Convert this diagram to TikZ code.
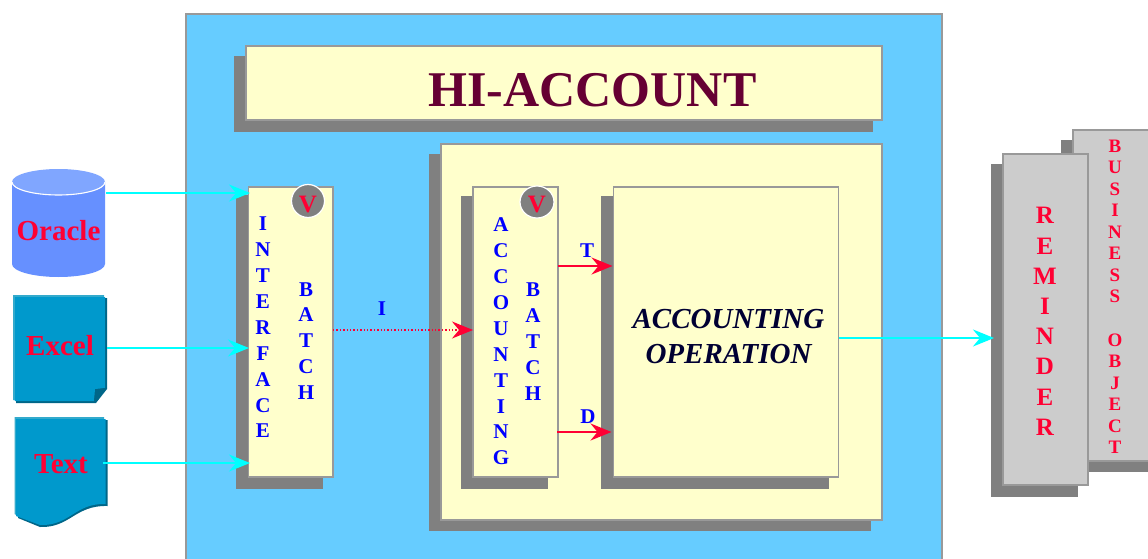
\documentclass[tikz,border=0pt]{standalone}
\usepackage{fontspec}
\setmainfont{Liberation Serif}
\usetikzlibrary{arrows.meta,shapes.geometric}
\definecolor{sky}{HTML}{66CCFF}
\definecolor{pale}{HTML}{FFFFCC}
\definecolor{edge}{HTML}{999999}
\definecolor{shade}{HTML}{808080}
\definecolor{rd}{HTML}{FF0033}
\definecolor{silver}{HTML}{CCCCCC}
\definecolor{wine}{HTML}{660033}
\definecolor{navy2}{HTML}{000033}
\definecolor{teal1}{HTML}{0099CC}
\definecolor{teal2}{HTML}{33AACC}
\definecolor{teal3}{HTML}{006688}
\definecolor{ora}{HTML}{6690FF}
\definecolor{oratop}{HTML}{80A6FF}
\definecolor{cyanline}{HTML}{00FFFF}
\definecolor{bluetext}{HTML}{0000FF}
\tikzset{
  x=1pt,y=-1pt,
  panel/.style={draw=edge,line width=1.5pt,fill=#1,anchor=north west,inner sep=0pt,outer sep=0pt},
  shadowbox/.style={fill=shade,draw=none,anchor=north west,inner sep=0pt,outer sep=0pt},
  letters/.style={inner sep=0pt,align=center,text=#1,font=\bfseries\fontsize{21}{25.9}\selectfont},
  smalllet/.style={inner sep=0pt,align=center,text=rd,font=\bfseries\fontsize{19}{21.55}\selectfont},
  biglet/.style={inner sep=0pt,align=center,text=rd,font=\bfseries\fontsize{25}{30.2}\selectfont},
  src/.style={inner sep=0pt,text=rd,font=\bfseries\fontsize{29}{32}\selectfont},
  vmark/.style={ellipse,draw=white,line width=1.2pt,fill=shade,inner sep=0pt},
  vtext/.style={text=rd,inner sep=0pt,font=\bfseries\fontsize{25}{25}\selectfont},
  flow/.style={draw=cyanline,line width=2pt,-{Stealth[length=21pt,width=17pt,inset=7pt]}},
  redflow/.style={draw=rd,line width=2pt,-{Stealth[length=21pt,width=17pt,inset=7pt]}},
  redlabel/.style={inner sep=0pt,text=bluetext,font=\bfseries\fontsize{21}{21}\selectfont},
}
\begin{document}
\begin{tikzpicture}
\clip (0,0) rectangle (1148,559);
\fill[white] (0,0) rectangle (1148,559);
% main panel
\node[panel=sky,minimum width=756pt,minimum height=560pt] (main) at (186,14) {};
% title
\node[shadowbox,minimum width=639pt,minimum height=76pt] (titleS) at (234,56) {};
\node[panel=pale,minimum width=636pt,minimum height=74pt] (title) at (246,46) {};
\node[inner sep=0pt,text=wine,font=\bfseries\fontsize{50}{50}\selectfont] (titleT) at (592.5,90) {HI-ACCOUNT};
% big pale
\node[shadowbox,minimum width=442pt,minimum height=377pt] (bigS) at (429,154) {};
\node[panel=pale,minimum width=441pt,minimum height=376pt] (big) at (441,144) {};
% interface
\node[shadowbox,minimum width=87pt,minimum height=294pt] (ifaceS) at (236,195) {};
\node[panel=pale,minimum width=84.5pt,minimum height=290pt] (iface) at (248.5,187) {};
\node[letters=bluetext] (ifaceA) at (263,327.5) {I\\N\\T\\E\\R\\F\\A\\C\\E};
\node[letters=bluetext] (ifaceB) at (306,341) {B\\A\\T\\C\\H};
\node[vmark,minimum width=33pt,minimum height=33pt] (v1) at (308,201) {};
\node[vtext] (v1t) at (308,204.5) {V};
% accounting batch
\node[shadowbox,minimum width=87pt,minimum height=293pt] (accS) at (461,196) {};
\node[panel=pale,minimum width=85pt,minimum height=290pt] (acc) at (473,187) {};
\node[letters=bluetext] (accA) at (501,341.5) {A\\C\\C\\O\\U\\N\\T\\I\\N\\G};
\node[letters=bluetext] (accB) at (533,341.5) {B\\A\\T\\C\\H};
\node[vmark,minimum width=34pt,minimum height=32pt] (v2) at (537,202) {};
\node[vtext] (v2t) at (537,204.5) {V};
% operation
\node[shadowbox,minimum width=228pt,minimum height=293pt] (opS) at (601,196) {};
\node[panel=pale,minimum width=225pt,minimum height=290pt] (op) at (613.5,187) {};
\node[inner sep=0pt,align=center,text=navy2,font=\bfseries\itshape\fontsize{29}{35}\selectfont] (opT) at (728.5,337) {ACCOUNTING\\OPERATION};
% business object
\node[shadowbox,minimum width=100pt,minimum height=332pt] (busS) at (1061,140) {};
\node[panel=silver,minimum width=90pt,minimum height=331pt] (bus) at (1073,130) {};
\node[smalllet] (busT) at (1115,296.7) {B\\U\\S\\I\\N\\E\\S\\S\\[21.55pt]O\\B\\J\\E\\C\\T};
% reminder
\node[shadowbox,minimum width=87pt,minimum height=333pt] (remS) at (991,164) {};
\node[panel=silver,minimum width=85pt,minimum height=331pt] (rem) at (1003,154) {};
\node[biglet] (remT) at (1045,321.5) {R\\E\\M\\I\\N\\D\\E\\R};
% oracle
\path[fill=ora] (12,182) -- (12,264) arc[start angle=180,end angle=360,x radius=46.5pt,y radius=13pt] -- (105,182) -- cycle;
\path[fill=oratop] (12,182) arc[start angle=180,end angle=-180,x radius=46.5pt,y radius=13pt];
\draw[white,line width=1.1pt] (12,182) arc[start angle=180,end angle=360,x radius=46.5pt,y radius=13pt];
\node[src] (oracle) at (58.5,231) {Oracle};
% excel
\path[fill=teal3] (16,298) -- (107,298) -- (107,389) -- (96,403) -- (16,403) -- cycle;
\path[fill=teal2] (13,295) -- (104,295) -- (104,300) -- (18,300) -- (18,401) -- (13,400) -- cycle;
\path[fill=teal1] (15,297) -- (105,297) -- (105,388) -- (95,389) -- (94,401) -- (15,401) -- cycle;
\path[fill=teal3] (105,388) -- (96,390) -- (94,401) -- cycle;
\node[src] (excel) at (60,346) {Excel};
% text
\path[fill=teal3] (18,420) -- (107.5,420) -- (107.5,506) .. controls (75,505) and (70,528) .. (40,527) -- (18,518) -- cycle;
\path[fill=teal2] (14.5,417) -- (104,417) -- (104,422) -- (18,422) -- (18,516) -- (14.5,514) -- cycle;
\path[fill=teal1] (16,419) -- (105.5,419) -- (105.5,504) .. controls (75,503) and (70,526) .. (40,525) -- (16,516) -- cycle;
\node[src] (textn) at (61,464) {Text};
% connectors
\coordinate (c1) at (106,193);
\coordinate (c2) at (107,348);
\coordinate (c3) at (103,463);
\coordinate (c4) at (839,338);
\coordinate (c5) at (333,330);
\coordinate (c6) at (558,266);
\coordinate (c7) at (557,432);
\draw[flow] (c1) -- ([xshift=1.5pt]iface.west |- c1);
\draw[flow] (c2) -- ([xshift=0.5pt]iface.west |- c2);
\draw[flow] (c3) -- ([xshift=1.5pt]iface.west |- c3);
\draw[flow] (c4) -- ([xshift=-9pt]rem.west |- c4);
\draw[draw=rd,line width=1.4pt,dotted,-{Stealth[length=21pt,width=17pt,inset=7pt]}] (c5) -- (acc.west |- c5);
\draw[redflow] (c6) -- ([xshift=-1pt]op.west |- c6);
\draw[redflow] (c7) -- ([xshift=-2pt]op.west |- c7);
\node[redlabel] (lI) at (382,309) {I};
\node[redlabel] (lT) at (587,251) {T};
\node[redlabel] (lD) at (588,417) {D};
\end{tikzpicture}
\end{document}
